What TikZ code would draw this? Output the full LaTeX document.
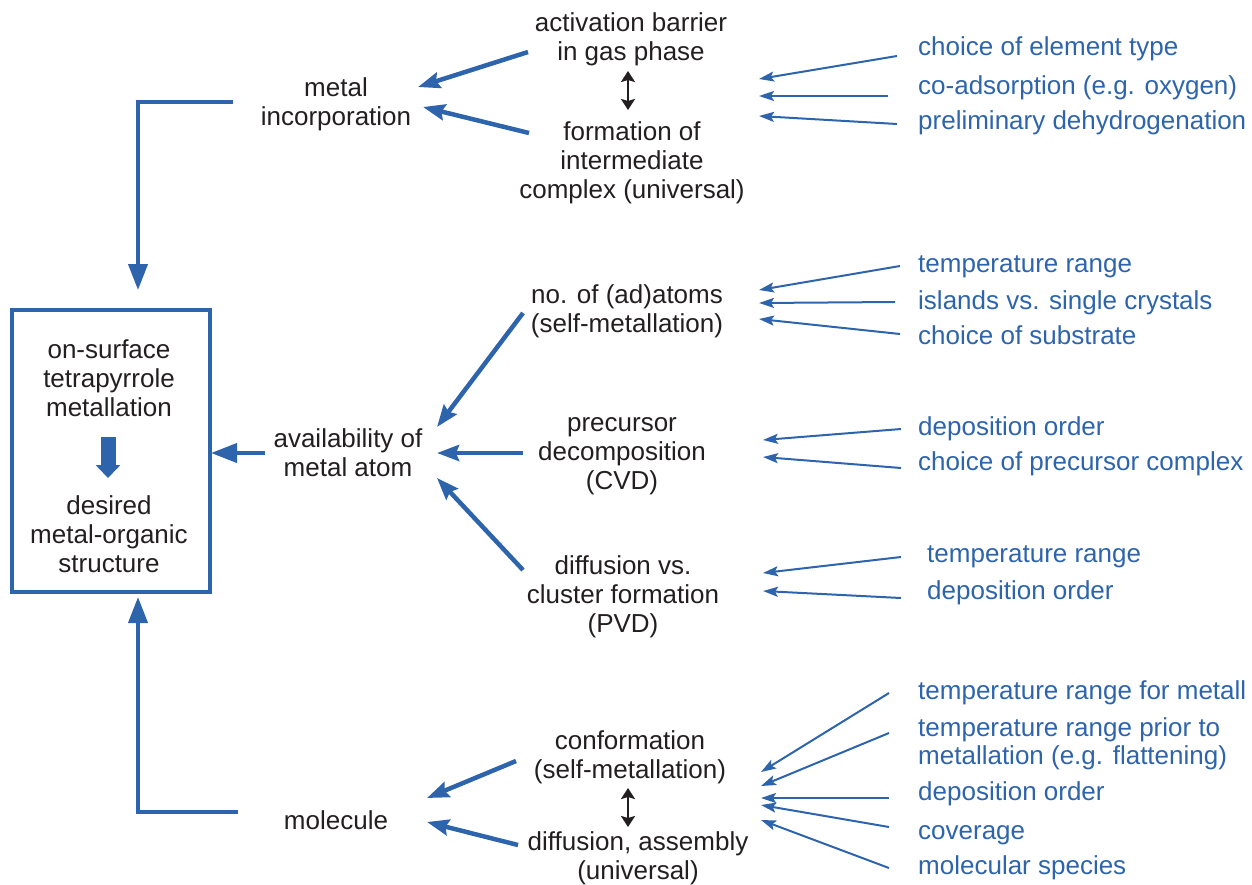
\documentclass[tikz,border=0pt]{standalone}
\usepackage{fontspec}
\setmainfont{Liberation Sans}
\usetikzlibrary{arrows.meta}
\definecolor{myblue}{RGB}{45,100,172}
\definecolor{txt}{RGB}{35,31,32}
\tikzset{
  blk/.style={text=txt, align=center, inner sep=0pt, font=\fontsize{26}{29}\selectfont},
  fac/.style={text=myblue, anchor=base west, inner sep=0pt, font=\fontsize{26}{29}\selectfont},
  facm/.style={text=myblue, anchor=west, align=left, inner sep=0pt, font=\fontsize{26}{28}\selectfont},
  farrow/.style={draw=myblue, line width=2pt, -{Stealth[length=15pt,width=10pt,inset=3pt]}},
  barrow/.style={draw=myblue, line width=4.5pt, -{Stealth[length=22pt,width=16pt,inset=3pt]}},
  conn/.style={draw=myblue, line width=4pt, -{Triangle[length=26pt,width=19pt]}},
  dbl/.style={draw=txt, line width=2.5pt, {Stealth[length=11pt,width=14pt,inset=2pt]}-{Stealth[length=11pt,width=14pt,inset=2pt]}},
  bigdown/.style={draw=myblue, line width=15pt, -{Triangle[length=13pt,width=24pt]}}
}
\begin{document}
\begin{tikzpicture}[x=1pt,y=-1pt]
\useasboundingbox (0,0) rectangle (1252,884);
% main box
\node[draw=myblue, line width=3.5pt, minimum width=198pt, minimum height=282pt, inner sep=0pt] (box) at (111,451) {};
\node[blk] (boxtop) at (109,378) {on-surface\\tetrapyrrole\\metallation};
\node[blk] (boxbot) at (109,534) {desired\\metal-organic\\structure};
\draw[bigdown] ([shift={(-3,-14)}]box.center) -- ([shift={(-3,27)}]box.center);

% black nodes
\node[blk] (mi) at (336,104) {metal\\incorporation};
\node[blk] (act) at (631,39) {activation barrier\\in gas phase};
\node[blk] (form) at (632,163) {formation of\\intermediate\\complex (universal)};
\node[blk] (noad) at (627,311) {no. of (ad)atoms\\(self-metallation)};
\node[blk] (avail) at (348,453) {availability of\\metal atom};
\node[blk] (prec) at (622,456) {precursor\\decomposition\\(CVD)};
\node[blk] (diff) at (623,597) {diffusion vs.\\cluster formation\\(PVD)};
\node[blk] (conf) at (630,757) {conformation\\(self-metallation)};
\node[blk] (da) at (638,858) {diffusion, assembly\\(universal)};
\node[blk] (mol) at (336,820) {molecule};

% blue factor texts
\node[fac] (t1) at (918,55) {choice of element type};
\node[fac] (t2) at (918,94) {co-adsorption (e.g. oxygen)};
\node[fac] (t3) at (918,129) {preliminary dehydrogenation};
\node[fac] (n1) at (918,272) {temperature range};
\node[fac] (n2) at (918,309) {islands vs. single crystals};
\node[fac] (n3) at (918,344) {choice of substrate};
\node[fac] (p1) at (918,435) {deposition order};
\node[fac] (p2) at (918,470) {choice of precursor complex};
\node[fac] (d1) at (927,562) {temperature range};
\node[fac] (d2) at (927,599) {deposition order};
\node[fac] (c1) at (918,699) {temperature range for metall};
\node[facm] (c2) at (918,744) {temperature range prior to\\metallation (e.g. flattening)};
\node[fac] (c3) at (918,800) {deposition order};
\node[fac] (c4) at (918,839) {coverage};
\node[fac] (c5) at (918,874) {molecular species};

% connectors to the box
\draw[conn] ([shift={(-103,-2)}]mi.center) -| ([shift={(27,-161)}]box.center);
\draw[conn] ([shift={(-98,-8)}]mol.center) -| ([shift={(27,146)}]box.center);
\draw[conn] ([shift={(-83,0)}]avail.center) -- ([shift={(100,2)}]box.center);

% thick arrows into black nodes
\draw[barrow] ([shift={(-103,13)}]act.center) -- ([shift={(82,-17)}]mi.center);
\draw[barrow] ([shift={(-103,-30)}]form.center) -- ([shift={(87,3)}]mi.center);
\draw[barrow] ([shift={(-104,2)}]noad.center) -- ([shift={(89,-26)}]avail.center);
\draw[barrow] ([shift={(-99,-3)}]prec.center) -- ([shift={(89,0)}]avail.center);
\draw[barrow] ([shift={(-100,-27)}]diff.center) -- ([shift={(89,25)}]avail.center);
\draw[barrow] ([shift={(-114,4)}]conf.center) -- ([shift={(91,-22)}]mol.center);
\draw[barrow] ([shift={(-120,-13)}]da.center) -- ([shift={(91,2)}]mol.center);

% double arrows
\draw[dbl] ([shift={(-3,32)}]act.center) -- ([shift={(-4,-53)}]form.center);
\draw[dbl] ([shift={(-2,31)}]conf.center) -- ([shift={(-10,-31)}]da.center);

% thin factor arrows
\draw[farrow] ([shift={(-21,1)}]t1.base west) -- ([shift={(127,-84)}]form.center);
\draw[farrow] ([shift={(-30,2)}]t2.base west) -- ([shift={(127,-67)}]form.center);
\draw[farrow] ([shift={(-21,-5)}]t3.base west) -- ([shift={(127,-47)}]form.center);
\draw[farrow] ([shift={(-18,-6)}]n1.base west) -- ([shift={(132,-21)}]noad.center);
\draw[farrow] ([shift={(-23,-7)}]n2.base west) -- ([shift={(132,-8)}]noad.center);
\draw[farrow] ([shift={(-18,-10)}]n3.base west) -- ([shift={(132,8)}]noad.center);
\draw[farrow] ([shift={(-17,-6)}]p1.base west) -- ([shift={(141,-16)}]prec.center);
\draw[farrow] ([shift={(-17,-2)}]p2.base west) -- ([shift={(141,1)}]prec.center);
\draw[farrow] ([shift={(-26,-5)}]d1.base west) -- ([shift={(140,-24)}]diff.center);
\draw[farrow] ([shift={(-26,-1)}]d2.base west) -- ([shift={(140,-6)}]diff.center);
\draw[farrow] ([shift={(-29,-6)}]c1.base west) -- ([shift={(131,15)}]conf.center);
\draw[farrow] ([shift={(-29,-11)}]c2.west) -- ([shift={(131,29)}]conf.center);
\draw[farrow] ([shift={(-29,-2)}]c3.base west) -- ([shift={(131,41)}]conf.center);
\draw[farrow] ([shift={(-29,-12)}]c4.base west) -- ([shift={(131,48)}]conf.center);
\draw[farrow] ([shift={(-29,-6)}]c5.base west) -- ([shift={(131,63)}]conf.center);
\end{tikzpicture}
\end{document}
